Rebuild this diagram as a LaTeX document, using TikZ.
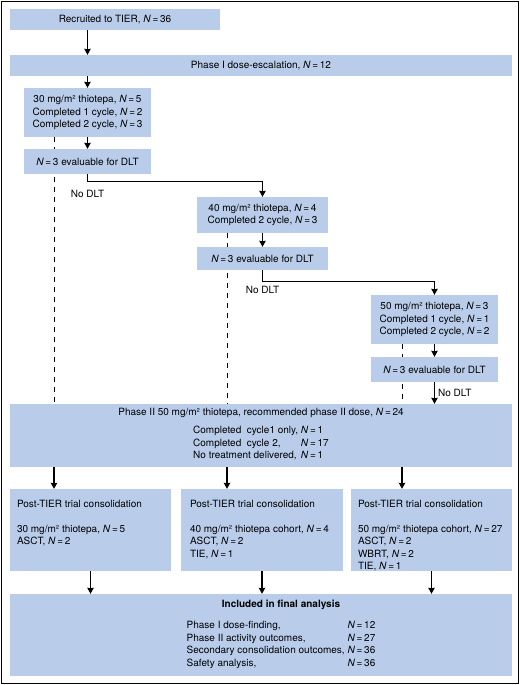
\documentclass[tikz,border=0pt]{standalone}
\usepackage{fontspec}
\setmainfont{TeX Gyre Heros}
\usetikzlibrary{arrows.meta, positioning, calc, backgrounds}
\definecolor{BoxBlue}{RGB}{185, 205, 235}
\newcommand{\nval}[1]{\textit{N}\,=\,#1}

\begin{document}
\begin{tikzpicture}[
        x=1pt, y=-1pt,
        >={Stealth[length=6pt, width=6.5pt, inset=0.5pt]},
        box/.style={rectangle, fill=BoxBlue, inner sep=0pt, align=center, font=\fontsize{10}{12.5}\selectfont},
        txt/.style={inner sep=0pt, align=left, font=\fontsize{10}{12.5}\selectfont},
        arr/.style={->, line width=1.2pt},
        dashline/.style={line width=1pt, dash pattern=on 4.5pt off 5.5pt},
        nodlt/.style={font=\fontsize{10}{12.5}\selectfont, inner sep=1pt}
    ]
        \useasboundingbox (0,0) rectangle (520,685);
        \draw[line width=1.3pt] (1.5,1.5) rectangle (518.5,683.5);

        % Phase I
        \node[box, minimum width=210, minimum height=21] (rec) at (115,19.5) {Recruited to TIER, \nval{36}};
        \node[box, minimum width=502, minimum height=21] (ph1) at (261,65.5) {Phase I dose-escalation, \nval{12}};
        \node[box, minimum width=127, minimum height=49] (d30) at (87.5,112.5) {30 mg/m² thiotepa, \nval{5}\\Completed 1 cycle, \nval{2}\\Completed 2 cycle, \nval{3}};
        \node[box, minimum width=127, minimum height=25] (e30) at (87.5,161.5) {\nval{3} evaluable for DLT};
        \node[box, minimum width=131, minimum height=36] (d40) at (262.5,215) {40 mg/m² thiotepa, \nval{4}\\Completed 2 cycle, \nval{3}};
        \node[box, minimum width=131, minimum height=23] (e40) at (262.5,258.5) {\nval{3} evaluable for DLT};
        \node[box, minimum width=127, minimum height=49] (d50) at (434.5,319.5) {50 mg/m² thiotepa, \nval{3}\\Completed 1 cycle, \nval{1}\\Completed 2 cycle, \nval{2}};
        \node[box, minimum width=127, minimum height=25] (e50) at (434.5,369.5) {\nval{3} evaluable for DLT};

        % Phase II
        \node[box, minimum width=502, minimum height=63] (ph2) at (261,435.5) {Phase II 50 mg/m² thiotepa, recommended phase II dose, \nval{24}\\[5.5pt]
            \begin{tabular}[t]{@{}l@{\ }l@{}}
                Completed\ \ cycle1 only, & \nval{1}\\
                Completed\ \ cycle 2, & \nval{17}\\
                No treatment delivered, & \nval{1}
            \end{tabular}};

        % Consolidation
        \node[box, minimum width=161, minimum height=82] (c30) at (90.5,530) {};
        \node[box, minimum width=162, minimum height=82] (c40) at (262,530) {};
        \node[box, minimum width=161, minimum height=82] (c50) at (431.5,530) {};
        \node[txt, anchor=north west] (c30t) at ([shift={(7,11)}]c30.north west) {Post-TIER trial consolidation\\[12.5pt]30 mg/m² thiotepa, \nval{5}\\ASCT, \nval{2}};
        \node[txt, anchor=north west] (c40t) at ([shift={(9,11)}]c40.north west) {Post-TIER trial consolidation\\[12.5pt]40 mg/m² thiotepa cohort, \nval{4}\\ASCT, \nval{2}\\TIE, \nval{1}};
        \node[txt, anchor=north west] (c50t) at ([shift={(7,11)}]c50.north west) {Post-TIER trial consolidation\\[12.5pt]50 mg/m² thiotepa cohort, \nval{27}\\ASCT, \nval{2}\\WBRT, \nval{2}\\TIE, \nval{1}};

        % Final analysis
        \node[box, minimum width=502, minimum height=82] (fin) at (261,635) {};
        \node[txt, align=center] (fint) at ([xshift=20pt]fin.center) {\textbf{Included in final analysis}\\[8.5pt]
            \begin{tabular}[t]{@{}l@{\ }l@{}}
                Phase I dose-finding, & \nval{12}\\
                Phase II activity outcomes, & \nval{27}\\
                Secondary consolidation outcomes, & \nval{36}\\
                Safety analysis, & \nval{36}
            \end{tabular}};

        \coordinate (k30) at (54,478);
        \coordinate (k40) at (227,478);
        \coordinate (k50) at (402,478);

        % Edges
        \draw[arr] (rec.south -| d30.north) -- (ph1.north -| d30.north);
        \draw[arr] (ph1.south -| d30.north) -- (d30.north);
        \draw[arr] (d30) -- (e30);
        \draw[arr] (e30.south) -- ++(0,7) coordinate (t30) -| (d40.north);
        \node[nodlt, below=8pt of t30] (n30) {No DLT};
        \draw[arr] (d40) -- (e40);
        \draw[arr] (e40.south) -- ++(0,11) coordinate (t40) -| (d50.north);
        \node[nodlt, below=4pt of t40] (n40) {No DLT};
        \draw[arr] (d50) -- (e50);
        \draw[arr] (e50.south) -- node[nodlt, right=2pt] (n50) {No DLT} (e50.south |- ph2.north);

        % dashed lines run behind the boxes
        \begin{pgfonlayer}{background}
            \draw[dashline] (d30.south -| k30) -- (ph2.north -| k30);
            \draw[dashline] (d40.south -| k40) -- (ph2.north -| k40);
            \draw[dashline] (d50.south -| k50) -- (ph2.north -| k50);
        \end{pgfonlayer}

        \draw[arr] (ph2.south -| k30) -- (c30.north -| k30);
        \draw[arr] (ph2.south -| k40) -- (c40.north -| k40);
        \draw[arr] (ph2.south -| k50) -- (c50.north -| k50);

        \draw[arr] (c30.south) -- (fin.north -| c30.south);
        \draw[arr] (c40.south) -- (fin.north -| c40.south);
        \draw[arr] (c50.south) -- (fin.north -| c50.south);
    \end{tikzpicture}
\end{document}
